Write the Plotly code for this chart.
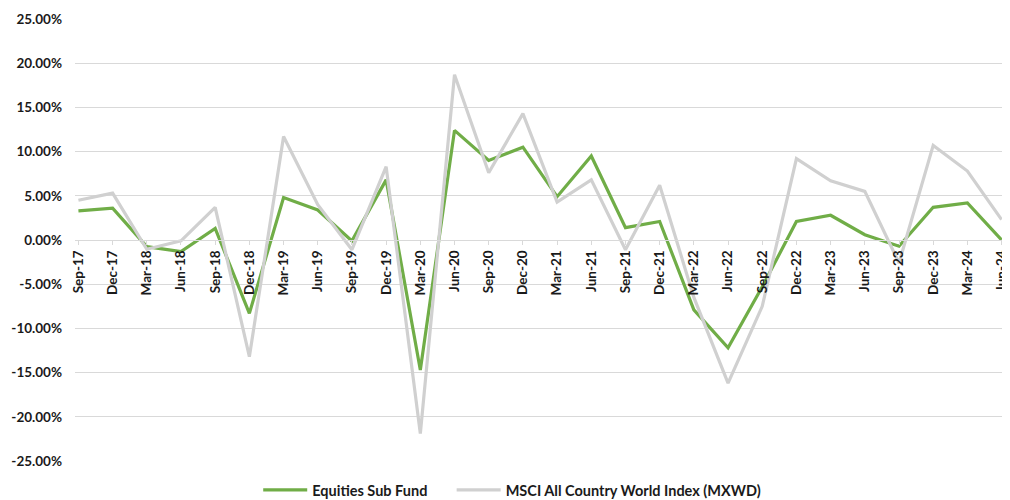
import plotly.graph_objects as go

quarters = ["Sep-17", "Dec-17", "Mar-18", "Jun-18", "Sep-18", "Dec-18", "Mar-19", "Jun-19",
            "Sep-19", "Dec-19", "Mar-20", "Jun-20", "Sep-20", "Dec-20", "Mar-21", "Jun-21",
            "Sep-21", "Dec-21", "Mar-22", "Jun-22", "Sep-22", "Dec-22", "Mar-23", "Jun-23",
            "Sep-23", "Dec-23", "Mar-24", "Jun-24"]

equities_sub_fund = [3.3, 3.6, -0.75, -1.3, 1.3, -8.3, 4.8, 3.4,
                     -0.1, 6.8, -14.7, 12.4, 9.0, 10.5, 4.9, 9.5,
                     1.4, 2.1, -7.9, -12.2, -5.3, 2.1, 2.8, 0.6,
                     -0.7, 3.7, 4.2, 0.0]

msci_acwi = [4.5, 5.3, -1.05, -0.1, 3.7, -13.2, 11.7, 4.0,
             -1.1, 8.3, -21.9, 18.7, 7.6, 14.3, 4.3, 6.8,
             -1.1, 6.2, -6.5, -16.2, -7.5, 9.2, 6.7, 5.5,
             -2.6, 10.7, 7.8, 2.3]

y_ticks = [25, 20, 15, 10, 5, 0, -5, -10, -15, -20, -25]
y_tick_text = [f"{v:.2f}%" for v in y_ticks]

FONT = "Lato"
TEXT = "#1a1a1a"
legend_font = dict(family=FONT, size=14.5, color=TEXT, weight="bold")

fig = go.Figure()
fig.add_trace(go.Scatter(x=quarters, y=equities_sub_fund, mode="lines",
                         name="Equities Sub Fund", legend="legend",
                         line=dict(color="#70AD47", width=3.2)))
fig.add_trace(go.Scatter(x=quarters, y=msci_acwi, mode="lines",
                         name="MSCI All Country World Index (MXWD)", legend="legend2",
                         line=dict(color="#D0D0D0", width=3.2)))

fig.update_layout(
    width=1002, height=492,
    margin=dict(l=67, r=5, t=11, b=39, autoexpand=False),
    paper_bgcolor="white", plot_bgcolor="white",
    font=dict(family=FONT, color=TEXT),
    showlegend=True,
    legend=dict(orientation="h", x=0.197, xanchor="left", y=-0.0656, yanchor="middle",
                font=legend_font, itemwidth=44, bgcolor="rgba(0,0,0,0)"),
    legend2=dict(orientation="h", x=0.405, xanchor="left", y=-0.0656, yanchor="middle",
                 font=legend_font, itemwidth=44, bgcolor="rgba(0,0,0,0)"),
    xaxis=dict(
        type="category",
        range=[-0.1, 27.1],
        anchor="free", position=0.5,
        automargin=False,
        showgrid=False, zeroline=False,
        showline=True, linecolor="#D9D9D9", linewidth=1,
        ticks="outside", ticklen=4, tickcolor="#D9D9D9",
        tickangle=-90, ticklabeloverflow="allow",
        tickfont=dict(family=FONT, size=13.5, color=TEXT, weight="bold"),
    ),
    yaxis=dict(
        range=[-25, 25],
        automargin=False,
        tickvals=y_ticks, ticktext=y_tick_text,
        showgrid=True, gridcolor="#D9D9D9", gridwidth=1,
        zeroline=False, showline=False,
        ticks="", ticklabelstandoff=12,
        tickfont=dict(family=FONT, size=13.5, color=TEXT, weight="bold"),
    ),
)

fig.write_html("out.html")
